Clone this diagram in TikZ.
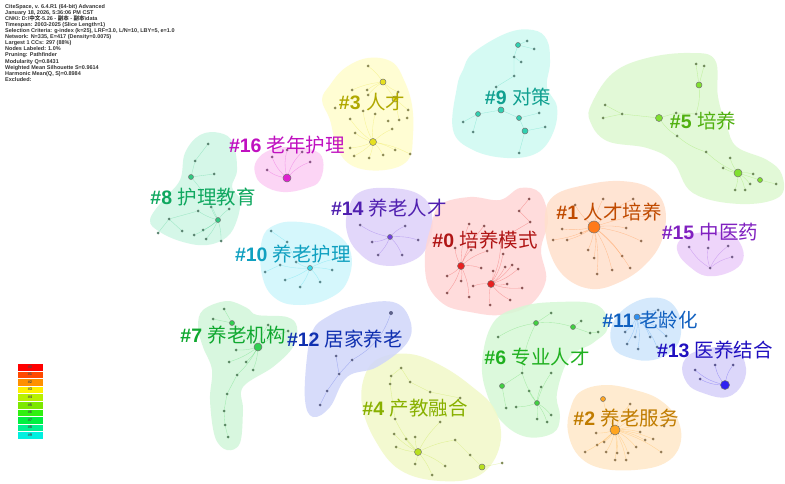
\documentclass[tikz,border=0pt]{standalone}
\usepackage{fontspec}
\setmainfont{Liberation Sans}
\newfontfamily\cjk{Noto Sans CJK SC}
\usetikzlibrary{shapes.geometric}
% node colours
\definecolor{n0}{HTML}{E82020}\definecolor{n1}{HTML}{FF7A1A}\definecolor{n2}{HTML}{FFA520}
\definecolor{n3}{HTML}{E6E020}\definecolor{n4}{HTML}{B8E020}\definecolor{n5}{HTML}{80E030}
\definecolor{n6}{HTML}{40D040}\definecolor{n7}{HTML}{30D050}\definecolor{n8}{HTML}{30C880}
\definecolor{n9}{HTML}{30D0B0}\definecolor{n10}{HTML}{30D8E8}\definecolor{n11}{HTML}{3090F0}
\definecolor{n12}{HTML}{4050E0}\definecolor{n13}{HTML}{3020F0}\definecolor{n14}{HTML}{7040E0}
\definecolor{n15}{HTML}{9040E0}\definecolor{n16}{HTML}{E020D0}
% blob colours
\definecolor{b0}{HTML}{FFD6D6}\definecolor{b1}{HTML}{FFE0CC}\definecolor{b2}{HTML}{FFE8C8}
\definecolor{b3}{HTML}{FFFDCC}\definecolor{b4}{HTML}{F2F9C8}\definecolor{b5}{HTML}{DDF8D0}
\definecolor{b6}{HTML}{D6F8D6}\definecolor{b7}{HTML}{D2F6DA}\definecolor{b8}{HTML}{CEF6E4}
\definecolor{b9}{HTML}{CEFAF2}\definecolor{b10}{HTML}{CEF6FC}\definecolor{b11}{HTML}{CEE6FC}
\definecolor{b12}{HTML}{D0D6FA}\definecolor{b13}{HTML}{D6D0FA}\definecolor{b14}{HTML}{DED0FA}
\definecolor{b15}{HTML}{ECCEFA}\definecolor{b16}{HTML}{FCCEF4}
% label colours
\definecolor{l0}{HTML}{B01515}\definecolor{l1}{HTML}{C04A00}\definecolor{l2}{HTML}{C07C00}
\definecolor{l3}{HTML}{B0A800}\definecolor{l4}{HTML}{88B000}\definecolor{l5}{HTML}{50B010}
\definecolor{l6}{HTML}{20B020}\definecolor{l7}{HTML}{10A830}\definecolor{l8}{HTML}{10A860}
\definecolor{l9}{HTML}{10A090}\definecolor{l10}{HTML}{10A0C0}\definecolor{l11}{HTML}{1060C0}
\definecolor{l12}{HTML}{1030B0}\definecolor{l13}{HTML}{2010C0}\definecolor{l14}{HTML}{5020B0}
\definecolor{l15}{HTML}{8020C0}\definecolor{l16}{HTML}{C010C0}
\tikzset{
  dot/.style={circle,inner sep=0pt,minimum size=3pt,fill=#1!40!black!70,draw=none},
  ring/.style={circle,inner sep=0pt,minimum size=6pt,fill=#1,draw=black!55,line width=0.5pt},
  hub/.style={circle,inner sep=0pt,minimum size=11pt,fill=#1,draw=black!55,line width=0.5pt},
  link/.style={draw=#1,line width=0.35pt,opacity=0.35},
  blob/.style={fill=#1,draw=none,opacity=0.85},
  lab/.style={inner sep=0pt,text=#1,font=\fontsize{19.5}{20}\selectfont},
  legbox/.style={draw=white,line width=0.2pt,fill=#1,minimum width=26pt,minimum height=7.6pt,inner sep=0pt,font=\fontsize{4}{4}\selectfont\bfseries,text=black!70}
}
\newcommand{\clab}[2]{\textbf{#1} {\cjk #2}}
\begin{document}
\begin{tikzpicture}[x=1pt,y=-1pt]
\useasboundingbox (0,0) rectangle (785,484);
\fill[white] (0,0) rectangle (785,484);

% ---------------- blobs
\fill[blob=b5] plot[smooth cycle,tension=0.65] coordinates {(592,103)(613,73)(647,58)(690,53)(715,60)(718,97)(727,127)(737,147)(767,160)(782,175)(779,197)(740,204)(693,193)(673,162)(647,148)(607,141)(590,121)};
\fill[blob=b9] plot[smooth cycle,tension=0.65] coordinates {(473,53)(507,33)(533,30)(547,40)(550,63)(547,87)(557,107)(553,133)(537,153)(507,158)(473,150)(453,130)(457,87)(463,70)};
\fill[blob=b3] plot[smooth cycle,tension=0.65] coordinates {(330,85)(345,68)(368,58)(392,62)(404,80)(412,105)(413,135)(408,160)(385,170)(355,167)(338,150)(330,120)(322,100)};
\fill[blob=b16] plot[smooth cycle,tension=0.7] coordinates {(257,160)(270,150)(290,147)(313,150)(323,160)(320,180)(307,188)(283,192)(263,185)(255,173)};
\fill[blob=b8] plot[smooth cycle,tension=0.65] coordinates {(200,135)(220,133)(233,143)(237,170)(232,187)(240,200)(237,220)(227,237)(207,245)(183,242)(160,232)(150,220)(163,200)(180,180)(185,153)};
\fill[blob=b14] plot[smooth cycle,tension=0.7] coordinates {(348,210)(360,192)(390,188)(420,195)(432,215)(428,245)(410,262)(380,265)(358,252)(347,232)};
\fill[blob=b10] plot[smooth cycle,tension=0.7] coordinates {(262,240)(275,225)(300,222)(330,230)(350,250)(348,280)(330,298)(300,305)(275,298)(262,275)};
\fill[blob=b0] plot[smooth cycle,tension=0.6] coordinates {(430,230)(440,205)(470,197)(500,200)(520,188)(540,193)(548,220)(541,250)(546,280)(530,305)(500,315)(470,312)(445,305)(428,285)(425,255)};
\fill[blob=b1] plot[smooth cycle,tension=0.65] coordinates {(545,215)(555,195)(585,185)(620,181)(650,188)(665,208)(662,240)(645,265)(620,282)(592,289)(565,277)(549,250)};
\fill[blob=b15] plot[smooth cycle,tension=0.7] coordinates {(680,240)(697,233)(727,233)(740,243)(743,260)(730,272)(707,276)(690,267)(678,253)};
\fill[blob=b11] plot[smooth cycle,tension=0.7] coordinates {(613,323)(633,303)(660,298)(677,310)(681,333)(673,350)(653,360)(630,358)(613,347)};
\fill[blob=b13] plot[smooth cycle,tension=0.7] coordinates {(683,363)(700,350)(733,348)(745,363)(743,383)(727,397)(703,393)(687,383)};
\fill[blob=b6] plot[smooth cycle,tension=0.65] coordinates {(493,323)(520,307)(557,302)(597,305)(608,327)(593,343)(570,357)(557,393)(560,417)(553,433)(527,437)(503,423)(488,397)(482,363)};
\fill[blob=b2] plot[smooth cycle,tension=0.65] coordinates {(570,410)(580,392)(605,385)(635,390)(660,400)(678,420)(680,445)(665,463)(635,470)(600,468)(578,455)(568,432)};
\fill[blob=b4] plot[smooth cycle,tension=0.65] coordinates {(365,375)(380,358)(410,354)(440,365)(470,385)(495,410)(500,445)(480,475)(440,481)(400,470)(375,440)(362,405)};
\fill[blob=b12] plot[smooth cycle,tension=0.65] coordinates {(327,317)(353,306)(393,302)(410,320)(407,343)(377,367)(347,377)(330,407)(313,417)(305,400)(307,357)(313,330)};
\fill[blob=b7] plot[smooth cycle,tension=0.6] coordinates {(203,310)(227,301)(247,308)(257,315)(287,317)(297,327)(293,347)(273,367)(243,387)(243,410)(240,443)(227,450)(215,437)(210,400)(212,370)(203,347)(198,327)};

% ---------------- cluster 0
\node[hub=n0,minimum size=7pt] (c0-A) at (461,266) {};
\node[hub=n0,minimum size=7pt] (c0-B) at (491,284) {};
\foreach \n/\x/\y in {1/529/199,2/519/211,3/530/222,4/469/224,5/484/226,6/501/239,7/455/248,8/471/250,9/487/251,10/503/254,11/481/268,12/493/271,13/505/267,14/512/265,15/518/269,16/447/276,17/461/281,18/473/286,19/507/284,20/522/288,21/447/293,22/469/297,23/490/305,24/510/300}
  \node[dot=n0] (c0-\n) at (\x,\y) {};
\foreach \n in {4,5,7,8,9,16,17,21,22,11} \draw[link=n0] (c0-A) to[bend left=10] (c0-\n);
\foreach \n in {6,10,12,13,14,15,18,19,20,23,24} \draw[link=n0] (c0-B) to[bend right=10] (c0-\n);
\draw[link=n0] (c0-1) -- (c0-2) -- (c0-3) -- (c0-6);
\node[lab=l0] (L0) at (485,240) {\clab{\#0}{培养模式}};

% ---------------- cluster 1
\node[hub=n1,minimum size=12pt] (c1-H) at (594,227) {};
\foreach \n/\x/\y in {1/553/240,2/567/240,3/562/229,4/581/233,5/588/250,6/594/258,7/597/274,8/575/205,9/603/199,10/626/228,11/641/241,12/622/256,13/612/270,14/633/199,15/650/216,16/630/268}
  \node[dot=n1] (c1-\n) at (\x,\y) {};
\foreach \n in {1,2,3,4,5,6,7,8,9,10,11,12,13,14,15,16} \draw[link=n1] (c1-H) to[bend left=8] (c1-\n);
\node[lab=l1] (L1) at (609,212) {\clab{\#1}{人才培养}};

% ---------------- cluster 2
\node[hub=n2,minimum size=10pt] (c2-H) at (615,430) {};
\node[ring=n2,minimum size=5pt] (c2-0) at (603,399) {};
\foreach \n/\x/\y in {1/596/433,2/597/445,3/604/442,4/585/452,5/606/452,6/617/453,7/628/453,8/636/447,9/645/440,10/640/432,11/653/439,12/626/460,13/615/460,14/630/404,15/650/412,16/664/426,17/661/452}
  \node[dot=n2] (c2-\n) at (\x,\y) {};
\foreach \n in {0,1,2,3,4,5,6,7,8,9,10,11,12,13,14,15,16,17} \draw[link=n2] (c2-H) to[bend left=8] (c2-\n);
\node[lab=l2] (L2) at (626,418) {\clab{\#2}{养老服务}};

% ---------------- cluster 3
\node[ring=n3] (c3-A) at (383,82) {};
\node[ring=n3] (c3-B) at (395,99) {};
\node[ring=n3,minimum size=7pt] (c3-C) at (373,142) {};
\foreach \n/\x/\y in {1/368/66,2/352/90,3/367/90,4/368/95,5/398/92,6/335/108,7/363/111,8/375/114,9/408/110,10/350/119,11/388/121,12/399/120,13/407/118,14/392/129,15/355/133,16/350/148,17/383/155,18/395/150,19/410/154,20/369/158,21/354/156}
  \node[dot=n3] (c3-\n) at (\x,\y) {};
\foreach \n in {15,16,17,18,19,20,21,14,7,8,10} \draw[link=n3] (c3-C) to[bend left=8] (c3-\n);
\foreach \n in {1,3,4,5,2} \draw[link=n3] (c3-A) to[bend right=8] (c3-\n);
\draw[link=n3] (c3-A) -- (c3-B) -- (c3-12); \draw[link=n3] (c3-B) -- (c3-9);
\node[lab=l3] (L3) at (372,102) {\clab{\#3}{人才}};

% ---------------- cluster 4
\node[ring=n4,minimum size=7pt] (c4-H) at (418,452) {};
\node[ring=n4] (c4-G) at (482,467) {};
\foreach \n/\x/\y in {1/401/368,2/391/376,3/410/382,4/390/384,5/395/419,6/394/434,7/406/439,8/415/437,9/396/447,10/415/464,11/502/463,12/440/422,13/455/440,14/470/455,15/445/466,16/432/475,17/460/398,18/430/392}
  \node[dot=n4] (c4-\n) at (\x,\y) {};
\foreach \n in {5,6,7,8,9,10,12,13,15,16} \draw[link=n4] (c4-H) to[bend left=8] (c4-\n);
\draw[link=n4] (c4-13) -- (c4-14) -- (c4-G) -- (c4-11);
\draw[link=n4] (c4-1) -- (c4-2) -- (c4-4) -- (c4-5); \draw[link=n4] (c4-1) -- (c4-3) -- (c4-18) -- (c4-17);
\node[lab=l4] (L4) at (415,408) {\clab{\#4}{产教融合}};

% ---------------- cluster 5
\node[ring=n5] (c5-A) at (699,85) {};
\node[ring=n5,minimum size=7pt] (c5-B) at (659,118) {};
\node[ring=n5,minimum size=8pt] (c5-H) at (738,173) {};
\node[ring=n5,minimum size=5pt] (c5-R) at (760,180) {};
\foreach \n/\x/\y in {1/696/64,2/704/66,3/605/105,4/603/118,5/622/114,6/676/113,7/696/114,8/677/136,9/706/152,10/730/158,11/723/168,12/753/174,13/750/184,14/776/184,15/735/190,16/745/190}
  \node[dot=n5] (c5-\n) at (\x,\y) {};
\draw[link=n5] (c5-1) -- (c5-A) -- (c5-2); \draw[link=n5] (c5-A) to[bend left=10] (c5-7);
\draw[link=n5] (c5-3) -- (c5-5) -- (c5-B) -- (c5-6) -- (c5-7); \draw[link=n5] (c5-4) -- (c5-5);
\draw[link=n5] (c5-B) to[bend right=10] (c5-8); \draw[link=n5] (c5-8) to[bend right=10] (c5-9);
\foreach \n in {9,10,11,12,13,15,16} \draw[link=n5] (c5-H) to[bend left=8] (c5-\n);
\draw[link=n5] (c5-H) -- (c5-R) -- (c5-14);
\node[lab=l5] (L5) at (703,121) {\clab{\#5}{培养}};

% ---------------- cluster 6
\node[ring=n6,minimum size=5pt] (c6-A) at (536,323) {};
\node[ring=n6,minimum size=5pt] (c6-B) at (573,327) {};
\node[ring=n6,minimum size=5pt] (c6-C) at (502,386) {};
\node[ring=n6,minimum size=5pt] (c6-D) at (537,403) {};
\foreach \n/\x/\y in {1/551/313,2/581/321,3/590/333,4/598/332,5/498/337,6/522/373,7/551/373,8/529/391,9/541/387,10/506/408,11/516/407,12/551/415,13/537/419,14/547/422}
  \node[dot=n6] (c6-\n) at (\x,\y) {};
\draw[link=n6] (c6-1) -- (c6-A) to[bend right=10] (c6-5); \draw[link=n6] (c6-A) to[bend left=10] (c6-B);
\draw[link=n6] (c6-2) -- (c6-B) -- (c6-3) -- (c6-4);
\draw[link=n6] (c6-A) to[bend right=10] (c6-6); \draw[link=n6] (c6-6) -- (c6-C) -- (c6-10);
\foreach \n in {7,8,9,11,12,13,14,6} \draw[link=n6] (c6-D) to[bend left=8] (c6-\n);
\node[lab=l6] (L6) at (537,357) {\clab{\#6}{专业人才}};

% ---------------- cluster 7
\node[ring=n7,minimum size=5pt] (c7-A) at (232,323) {};
\node[ring=n7,minimum size=8pt] (c7-H) at (258,347) {};
\foreach \n/\x/\y in {1/224/309,2/213/319,3/268/325,4/288/331,5/236/350,6/229/362,7/246/362,8/253/370,9/237/375,10/227/394,11/224/411,12/225/425,13/228/437}
  \node[dot=n7] (c7-\n) at (\x,\y) {};
\foreach \n in {3,4,5,6,7,8,9} \draw[link=n7] (c7-H) to[bend left=8] (c7-\n);
\draw[link=n7] (c7-1) -- (c7-A) -- (c7-2); \draw[link=n7] (c7-A) to[bend left=8] (c7-H);
\draw[link=n7] (c7-9) -- (c7-10) -- (c7-11) -- (c7-12) -- (c7-13);
\node[lab=l7] (L7) at (233,335) {\clab{\#7}{养老机构}};

% ---------------- cluster 8
\node[ring=n8,minimum size=5pt] (c8-A) at (191,177) {};
\node[ring=n8,minimum size=5pt] (c8-H) at (218,220) {};
\foreach \n/\x/\y in {1/208/144,2/195/161,3/214/174,4/198/211,5/211/207,6/229/209,7/169/219,8/182/231,9/203/230,10/194/235,11/206/239,12/221/241,13/158/233}
  \node[dot=n8] (c8-\n) at (\x,\y) {};
\draw[link=n8] (c8-1) -- (c8-2) -- (c8-A) -- (c8-3);
\draw[link=n8] (c8-A) to[bend left=8] (c8-H);
\foreach \n in {4,5,6,9,10,11,12} \draw[link=n8] (c8-H) to[bend left=8] (c8-\n);
\draw[link=n8] (c8-4) -- (c8-7) -- (c8-13); \draw[link=n8] (c8-7) -- (c8-8);
\node[lab=l8] (L8) at (203,197) {\clab{\#8}{护理教育}};

% ---------------- cluster 9
\node[ring=n9,minimum size=5pt] (c9-A) at (518,45) {};
\node[ring=n9,minimum size=6pt] (c9-H) at (501,110) {};
\node[ring=n9,minimum size=5pt] (c9-B) at (478,114) {};
\node[ring=n9,minimum size=5pt] (c9-C) at (519,118) {};
\node[ring=n9,minimum size=6pt] (c9-D) at (525,131) {};
\foreach \n/\x/\y in {1/527/41,2/534/49,3/514/57,4/521/62,5/514/76,6/496/87,7/463/122,8/473/132,9/539/113,10/545/127,11/519/153}
  \node[dot=n9] (c9-\n) at (\x,\y) {};
\draw[link=n9] (c9-1) -- (c9-A) -- (c9-2); \draw[link=n9] (c9-A) -- (c9-3) -- (c9-4);
\draw[link=n9] (c9-3) -- (c9-5) -- (c9-6) -- (c9-H);
\draw[link=n9] (c9-H) -- (c9-B) -- (c9-7); \draw[link=n9] (c9-B) -- (c9-8);
\draw[link=n9] (c9-H) -- (c9-C) -- (c9-D); \draw[link=n9] (c9-C) -- (c9-9);
\draw[link=n9] (c9-D) -- (c9-10); \draw[link=n9] (c9-D) -- (c9-11);
\node[lab=l9] (L9) at (518,97) {\clab{\#9}{对策}};

% ---------------- cluster 10
\node[ring=n10,minimum size=5pt] (c10-H) at (310,268) {};
\foreach \n/\x/\y in {1/271/231,2/287/242,3/280/265,4/296/262,5/285/280,6/300/287,7/320/282,8/332/270,9/340/258,10/265/272}
  \node[dot=n10] (c10-\n) at (\x,\y) {};
\foreach \n in {3,4,5,6,7,8,9} \draw[link=n10] (c10-H) to[bend left=8] (c10-\n);
\draw[link=n10] (c10-1) -- (c10-2) -- (c10-4); \draw[link=n10] (c10-3) -- (c10-10);
\node[lab=l10] (L10) at (293,254) {\clab{\#10}{养老护理}};

% ---------------- cluster 11
\node[ring=n11,minimum size=6pt] (c11-H) at (637,317) {};
\foreach \n/\x/\y in {1/658/310,2/625/332,3/635/337,4/650/337,5/666/336,6/627/344,7/638/349,8/657/347}
  \node[dot=n11] (c11-\n) at (\x,\y) {};
\foreach \n in {1,2,3,4,5,6,7,8} \draw[link=n11] (c11-H) to[bend left=10] (c11-\n);
\node[lab=l11] (L11) at (650,320) {\clab{\#11}{老龄化}};

% ---------------- cluster 12
\node[dot=n12,minimum size=4pt] (c12-1) at (391,313) {};
\foreach \n/\x/\y in {2/336/356,3/352/360,4/339/374,5/327/391,6/320/405}
  \node[dot=n12] (c12-\n) at (\x,\y) {};
\draw[link=n12] (c12-1) to[bend left=20] (c12-3); \draw[link=n12] (c12-3) -- (c12-4) -- (c12-5) -- (c12-6);
\draw[link=n12] (c12-2) -- (c12-4);
\node[lab=l12] (L12) at (345,339) {\clab{\#12}{居家养老}};

% ---------------- cluster 13
\node[hub=n13,minimum size=9pt] (c13-H) at (725,385) {};
\foreach \n/\x/\y in {1/695/370,2/715/365,3/733/365,4/700/379}
  \node[dot=n13] (c13-\n) at (\x,\y) {};
\foreach \n in {1,2,3,4} \draw[link=n13] (c13-H) to[bend left=12] (c13-\n);
\node[lab=l13] (L13) at (715,350) {\clab{\#13}{医养结合}};

% ---------------- cluster 14
\node[ring=n14,minimum size=5pt] (c14-H) at (390,237) {};
\foreach \n/\x/\y in {1/360/225,2/372/242,3/405/226,4/418/240,5/402/255,6/378/255}
  \node[dot=n14] (c14-\n) at (\x,\y) {};
\foreach \n in {1,2,3,4,5,6} \draw[link=n14] (c14-H) to[bend left=10] (c14-\n);
\node[lab=l14] (L14) at (389,208) {\clab{\#14}{养老人才}};

% ---------------- cluster 15
\foreach \n/\x/\y in {1/689/247,2/708/248,3/728/246,4/732/257,5/710/268}
  \node[dot=n15] (c15-\n) at (\x,\y) {};
\foreach \n in {1,2,3,4} \draw[link=n15] (c15-5) to[bend left=12] (c15-\n);
\node[lab=l15] (L15) at (710,232) {\clab{\#15}{中医药}};

% ---------------- cluster 16
\node[hub=n16,minimum size=8pt] (c16-H) at (287,178) {};
\foreach \n/\x/\y in {1/272/157,2/287/150,3/302/152,4/310/162,5/267/170}
  \node[dot=n16] (c16-\n) at (\x,\y) {};
\foreach \n in {1,2,3,4,5} \draw[link=n16] (c16-H) to[bend left=12] (c16-\n);
\node[lab=l16] (L16) at (287,145) {\clab{\#16}{老年护理}};

% ---------------- header text
\node[anchor=north west,align=left,inner sep=0pt,font=\fontsize{5.5}{6.1}\selectfont\bfseries,text=black!80] (hdr) at (5,4) {%
CiteSpace, v. 6.4.R1 (64-bit) Advanced\\
January 18, 2026, 5:36:06 PM CST\\
CNKI: D:\textbackslash{\cjk 中文}-5.26 - {\cjk 副本} - {\cjk 副本}\textbackslash data\\
Timespan: 2003-2025 (Slice Length=1)\\
Selection Criteria: g-index (k=25), LRF=3.0, L/N=10, LBY=5, e=1.0\\
Network: N=335, E=417 (Density=0.0075)\\
Largest 1 CCs: 297 (88\%)\\
Nodes Labeled: 1.0\%\\
Pruning: Pathfinder\\
Modularity Q=0.8431\\
Weighted Mean Silhouette S=0.9614\\
Harmonic Mean(Q, S)=0.8984\\
Excluded:};

% ---------------- legend
\foreach \i/\c in {0/FF0000,1/FF4A00,2/FF9000,3/FFF000,4/B8F000,5/7CE800,6/30F010,7/00F040,8/00F090,9/00F0E0} {
  \definecolor{lg}{HTML}{\c}
  \node[legbox=lg] (leg\i) at (30,366.8+7.6*\i) {\#\i};
}
\end{tikzpicture}
\end{document}
